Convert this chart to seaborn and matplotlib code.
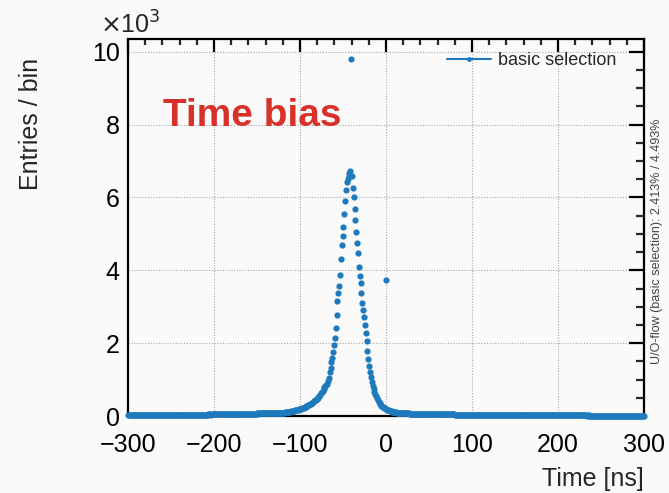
import numpy as np
import matplotlib
matplotlib.use("Agg")
import matplotlib.pyplot as plt
from matplotlib.lines import Line2D
from matplotlib.ticker import MultipleLocator
import seaborn as sns

# ---------------- data (entries per 1 ns bin) ----------------
bin_lo, bin_hi = -300, 300

left_tail = [  # -300 .. -131
    22, 25, 21, 24, 23, 26, 22, 24, 25, 23,
    24, 26, 23, 25, 27, 24, 26, 25, 23, 27,
    25, 27, 26, 24, 28, 26, 25, 27, 29, 26,
    27, 28, 26, 29, 27, 30, 28, 27, 29, 31,
    28, 30, 29, 31, 28, 30, 32, 29, 31, 30,
    32, 30, 31, 33, 31, 34, 32, 30, 33, 35,
    33, 34, 32, 35, 36, 33, 35, 37, 34, 36,
    35, 37, 36, 38, 35, 39, 37, 38, 40, 37,
    39, 38, 41, 40, 38, 42, 40, 43, 41, 42,
    43, 41, 44, 42, 45, 44, 43, 46, 45, 47,
    46, 48, 45, 49, 47, 50, 48, 51, 49, 52,
    50, 53, 51, 54, 52, 55, 53, 56, 55, 57,
    56, 58, 57, 59, 58, 60, 59, 61, 60, 62,
    61, 63, 62, 64, 63, 65, 64, 66, 65, 67,
    66, 68, 67, 69, 68, 70, 69, 71, 70, 72,
    71, 73, 72, 74, 73, 75, 74, 76, 75, 77,
    76, 78, 77, 79, 78, 80, 79, 81, 80, 82,
]

core = [  # -130 .. 29
    82, 84, 83, 86, 85, 88, 87, 90, 89, 92,
    94, 97, 99, 102, 106, 109, 113, 118, 122, 127,
    132, 138, 143, 149, 156, 162, 168, 175, 181, 188,
    196, 204, 212, 222, 231, 242, 253, 265, 278, 292,
    305, 320, 336, 352, 370, 388, 408, 428, 451, 475,
    500, 528, 558, 590, 625, 662, 702, 745, 792, 820,
    840, 880, 960, 1050, 1200, 1320, 1480, 1600, 1760, 1940,
    2150, 2420, 2780, 3150, 3380, 3580, 3880, 4300, 4700, 4950,
    5200, 5550, 5900, 6200, 6420, 6500, 6600, 6680, 6720, 9800,
    6600, 6250, 6020, 5680, 5380, 5060, 4750, 4480, 4100, 3850,
    3660, 3380, 3100, 2900, 2720, 2500, 2280, 2060, 1800, 1580,
    1380, 1220, 1080, 930, 830, 740, 670, 600, 540, 490,
    440, 400, 360, 320, 290, 270, 250, 230, 210, 200,
    3740, 180, 165, 155, 145, 135, 128, 120, 115, 110,
    105, 100, 98, 95, 93, 90, 88, 84, 82, 80,
    78, 77, 76, 75, 74, 73, 72, 71, 71, 70,
]

right_tail = [  # 30 .. 299
    70, 69, 68, 68, 67, 66, 66, 65, 64, 64,
    63, 62, 62, 61, 60, 60, 59, 59, 58, 57,
    57, 56, 56, 55, 55, 54, 54, 53, 53, 52,
    52, 51, 51, 50, 50, 49, 49, 48, 48, 48,
    47, 47, 46, 46, 46, 45, 45, 44, 44, 44,
    43, 43, 43, 42, 42, 42, 41, 41, 41, 40,
    40, 40, 39, 39, 39, 38, 38, 38, 38, 37,
    37, 37, 36, 36, 36, 36, 35, 35, 35, 35,
    34, 34, 34, 34, 33, 33, 33, 33, 32, 32,
    32, 32, 32, 31, 31, 31, 31, 30, 30, 30,
    30, 30, 29, 29, 29, 29, 29, 28, 28, 28,
    28, 28, 28, 27, 27, 27, 27, 27, 27, 26,
    26, 26, 26, 26, 26, 26, 25, 25, 25, 25,
    25, 25, 25, 24, 24, 24, 24, 24, 24, 24,
    23, 23, 23, 23, 23, 23, 23, 22, 22, 22,
    22, 22, 22, 22, 22, 21, 21, 21, 21, 21,
    21, 21, 21, 21, 20, 20, 20, 20, 20, 20,
    20, 20, 20, 19, 20, 19, 19, 19, 20, 19,
    19, 19, 18, 19, 19, 18, 18, 19, 18, 18,
    18, 18, 18, 17, 18, 17, 18, 17, 17, 17,
    17, 17, 17, 16, 17, 16, 17, 16, 16, 16,
    16, 16, 16, 15, 16, 15, 16, 15, 15, 15,
    15, 15, 15, 15, 14, 15, 14, 15, 14, 14,
    14, 14, 14, 14, 13, 14, 13, 14, 13, 13,
    13, 13, 13, 13, 13, 12, 13, 12, 13, 12,
    12, 12, 12, 12, 12, 12, 11, 12, 11, 12,
    11, 11, 11, 11, 11, 11, 11, 10, 11, 10,
]

series_label = "basic selection"
uo_text = "U/O-flow (basic selection): 2.413% / 4.493%"
annotation = "Time bias"

counts = np.array(left_tail + core + right_tail, dtype=float)
centers = np.arange(bin_lo, bin_hi) + 0.5
y_k = counts / 1000.0

# ---------------- plot ----------------
sns.set_theme(style="white")
plt.rcParams["font.family"] = ["Liberation Sans", "DejaVu Sans"]
plt.rcParams["axes.unicode_minus"] = True

bg = "#fafafa"
col = "#1f7abd"

fig = plt.figure(figsize=(6.69, 4.93), dpi=100, facecolor=bg)
ax = fig.add_axes([0.1913, 0.156, 0.7713, 0.765])
ax.set_facecolor(bg)

sns.scatterplot(x=centers, y=y_k, ax=ax, s=20, color=col, linewidth=0,
                legend=False, clip_on=False, zorder=3)

ax.set_xlim(-300, 300)
ax.set_ylim(0, 10.35)
ax.xaxis.set_major_locator(MultipleLocator(100))
ax.xaxis.set_minor_locator(MultipleLocator(20))
ax.yaxis.set_major_locator(MultipleLocator(2))
ax.yaxis.set_minor_locator(MultipleLocator(0.5))

ax.grid(True, which="major", color="#a8a8a8", linestyle=(0, (1, 1.5)), linewidth=0.8)
for s in ax.spines.values():
    s.set_color("black")
    s.set_linewidth(1.6)

ax.tick_params(axis="both", which="major", direction="in", length=11, width=1.6,
               top=True, right=True, labelsize=18, colors="black", pad=6)
ax.tick_params(axis="both", which="minor", direction="in", length=5.5, width=1.6,
               top=True, right=True)
ax.tick_params(axis="x", which="major", length=9, pad=12)
ax.tick_params(axis="x", which="minor", length=4.5)

ax.set_xlabel("Time [ns]", fontsize=18, ha="right")
ax.xaxis.set_label_coords(1.0, -0.135)
ax.set_ylabel("Entries / bin", fontsize=18, ha="right")
ax.yaxis.set_label_coords(-0.165, 0.95)

fig.text(0.149, 0.922, r"$\times$10$^{3}$", fontsize=18, ha="left", va="bottom")

ax.text(0.068, 0.795, annotation, transform=ax.transAxes, color="#d9302a",
        fontsize=28, fontweight="bold", ha="left", va="center")

handle = Line2D([0], [0], color=col, marker="o", markersize=2.5, linewidth=1.5)
leg = ax.legend([handle], [series_label], loc="upper right", frameon=False,
                fontsize=13, handlelength=2.4, handletextpad=0.4,
                borderaxespad=0.0, bbox_to_anchor=(0.96, 0.985))

fig.text(0.982, 0.51, uo_text, rotation=90, fontsize=9, color="#444444",
         ha="center", va="center")

fig.savefig("out.png", dpi=100, facecolor=bg)
